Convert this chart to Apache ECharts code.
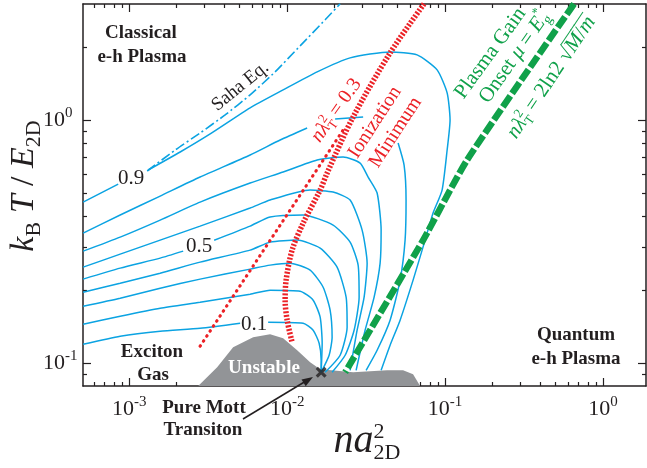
<!DOCTYPE html>
<html><head><meta charset="utf-8">
<script src="https://cdn.jsdelivr.net/npm/echarts@6/dist/echarts.min.js"></script>
<style>html,body{margin:0;padding:0;background:#fff}#c{width:647px;height:468px}</style>
</head><body><div id="c"></div>
<script>
// ---------------- data ----------------
const xMin = 5.1e-4, xMax = 1.87, yMin = 0.0804, yMax = 3.0;
const xMajorTicks = [0.001, 0.01, 0.1, 1];
const xTickExponents = ['-3', '-2', '-1', '0'];
const xMinorTicks = [6e-4, 7e-4, 8e-4, 9e-4, 2e-3, 3e-3, 4e-3, 5e-3, 6e-3, 7e-3, 8e-3, 9e-3,
  2e-2, 3e-2, 4e-2, 5e-2, 6e-2, 7e-2, 8e-2, 9e-2, 0.2, 0.3, 0.4, 0.5, 0.6, 0.7, 0.8, 0.9];
const yMajorTicks = [0.1, 1];
const yTickExponents = ['-1', '0'];
const yMinorTicks = [0.09, 0.2, 0.3, 0.4, 0.5, 0.6, 0.7, 0.8, 0.9, 2];

const contourLevels = ['0.1', '0.2', '0.3', '0.4', '0.5', '0.6', '0.7', '0.8', '0.9'];
const c01 = [[5.11e-4,0.1194],[8.77e-4,0.1288],[1.571e-3,0.1351],[2.812e-3,0.139],[5.04e-3,0.1458],null,
  [7.58e-3,0.1472],[1.263e-2,0.1458],[1.461e-2,0.1364],[1.594e-2,0.1206],[1.642e-2,0.1026],[1.642e-2,0.0916]];
const c02 = [[5.11e-4,0.1444],[8.77e-4,0.1557],[1.571e-3,0.168],[2.812e-3,0.1779],[5.83e-3,0.1919],[7.8e-3,0.1993],
  [1.208e-2,0.1974],[1.461e-2,0.1813],[1.618e-2,0.1543],[1.666e-2,0.1206],[1.642e-2,0.0916]];
const c03 = [[5.11e-4,0.1713],[8.77e-4,0.1848],[1.571e-3,0.2031],[2.812e-3,0.2213],[5.83e-3,0.2433],[7.8e-3,0.2527],
  [1.045e-2,0.2575],[1.398e-2,0.241],[1.69e-2,0.205],[1.871e-2,0.1649],[1.926e-2,0.1276],[1.844e-2,0.1076],[1.642e-2,0.0916]];
const c04 = [[5.11e-4,0.1956],[8.77e-4,0.213],[1.571e-3,0.2342],[2.812e-3,0.26],[5.83e-3,0.2913],[7.8e-3,0.3143],
  [1.157e-2,0.3203],[1.618e-2,0.2969],[2.071e-2,0.2479],[2.362e-2,0.1865],[2.397e-2,0.1403],[2.165e-2,0.1076],[1.74e-2,0.0916]];
const c05 = [[5.11e-4,0.2213],[8.77e-4,0.2456],[1.571e-3,0.27],[2.197e-3,0.2885],null,[3.451e-3,0.32],[5.83e-3,0.3658],
  [7.8e-3,0.3986],[1.263e-2,0.4062],[1.954e-2,0.3693],[2.504e-2,0.3143],[2.814e-2,0.2527],[2.855e-2,0.1865],
  [2.654e-2,0.1364],[2.329e-2,0.1076],[1.926e-2,0.0916]];
const c06 = [[5.11e-4,0.2479],[8.77e-4,0.2804],[1.571e-3,0.3203],[2.812e-3,0.3658],[5.83e-3,0.434],[7.8e-3,0.4681],
  [1.398e-2,0.5147],[1.954e-2,0.505],[2.504e-2,0.4681],[2.983e-2,0.3522],[3.209e-2,0.2575],[3.071e-2,0.1865],
  [2.773e-2,0.1364],[2.504e-2,0.0933]];
const c07 = [[5.11e-4,0.2885],[8.77e-4,0.3296],[1.571e-3,0.3873],[2.812e-3,0.4593],[5.83e-3,0.55],[9.43e-3,0.6106],
  [1.549e-2,0.684],[2.262e-2,0.704],[2.897e-2,0.6648],[3.256e-2,0.5822],[3.712e-2,0.5003],[3.935e-2,0.3522],
  [3.878e-2,0.2575],[3.553e-2,0.1865],[3.116e-2,0.1364],[2.733e-2,0.0933]];
const c08 = [[5.11e-4,0.3422],[8.77e-4,0.4062],[1.571e-3,0.4862],[2.812e-3,0.5822],[5.83e-3,0.7176],[9.03e-3,0.827],
  [1.338e-2,0.927],null,[2.012e-2,1.009],[3.027e-2,1.029],null,[5.04e-2,0.804],[5.5e-2,0.6524],[5.66e-2,0.4681],
  [5.58e-2,0.3203],[5.19e-2,0.2192],[4.485e-2,0.15],[3.712e-2,0.1128],[3.162e-2,0.0933]];
const c09 = [[5.11e-4,0.4593],[8.52e-4,0.5448],null,[1.319e-3,0.6223],[2.103e-3,0.738],[3.257e-3,0.876],[5.83e-3,1.121],
  [9.43e-3,1.329],[1.549e-2,1.577],[2.504e-2,1.801],[4.485e-2,1.906],[6.65e-2,1.853],[8.9e-2,1.607],[0.103,1.292],
  [0.1075,1.0],[0.103,0.752],[9.57e-2,0.5147],[8.39e-2,0.4139],[7.47e-2,0.3203],[6.27e-2,0.2192],[5.19e-2,0.15],
  [4.485e-2,0.1183],[3.935e-2,0.0933]];
const sahaEq = [[1.3e-3,0.6165],[1.955e-3,0.752],[2.812e-3,0.884],[4.05e-3,1.049],[5.83e-3,1.268],[8.39e-3,1.577],
  [1.208e-2,2.018],[1.74e-2,2.583],[2.165e-2,3.006]];
const ionizationMinimum = [[7.36e-2,3.006],[4.485e-2,1.888],[2.617e-2,1.029],[1.791e-2,0.6047],[1.618e-2,0.5147],
  [1.263e-2,0.3764],[1.075e-2,0.2913],[9.85e-3,0.2192],[9.71e-3,0.1813],[1.0e-2,0.15],[1.075e-2,0.1217]];
const thermalLine03 = [[2.812e-3,0.1172],[2.329e-2,0.936]];
const plasmaGainOnset = [[0.6555,3.006],[0.1378,0.684],[7.26e-2,0.3203],[2.329e-2,0.0916]];
const unstableRegion = [[2.734e-3,0.0804],[3.605e-3,0.096],[4.55e-3,0.1161],[6.09e-3,0.1276],[7.8e-3,0.1313],
  [9.43e-3,0.1264],[1.157e-2,0.1128],[1.398e-2,0.1007],[1.618e-2,0.0942],[2.617e-2,0.0916],[4.294e-2,0.0933],
  [5.42e-2,0.0933],[6.27e-2,0.0899],[6.95e-2,0.0804]];
const pureMottPoint = [[1.642e-2, 0.0916]];

// ---------------- styling ----------------
const BLUE = '#0ba3e2', RED = '#ec2227', GREEN = '#10a14a', GRAY = '#929497', INK = '#231f20';
const FONT = '"Liberation Serif", "Times New Roman", serif';

function expOf(v, ticks, exps) {
  let best = 0, bd = Infinity;
  ticks.forEach((t, i) => { const d = Math.abs(Math.log10(v) - Math.log10(t)); if (d < bd) { bd = d; best = i; } });
  return exps[best];
}
const tickRich = {
  b: { fontSize: 22, fontFamily: FONT, color: INK, lineHeight: 28 },
  s: { fontSize: 15, fontFamily: FONT, color: INK, lineHeight: 14, verticalAlign: 'top' }
};
function mkAxis(pos, min, max, tickVals, len, showLine, label) {
  return {
    type: 'log', logBase: 10, min: min, max: max, position: pos, gridIndex: 0,
    axisLine: { show: showLine, onZero: false, lineStyle: { color: INK, width: 1.5 } },
    axisTick: { show: true, inside: true, length: len, customValues: tickVals, lineStyle: { color: INK, width: 1.2 } },
    axisLabel: label || { show: false },
    splitLine: { show: false }, minorTick: { show: false }, minorSplitLine: { show: false },
    axisPointer: { show: false }
  };
}

// rich text composed of parts (for sub/superscripts), optionally rotated
const mctx = document.createElement('canvas').getContext('2d');
function fnt(p) { return (p.it ? 'italic ' : '') + (p.b ? 'bold ' : '') + p.s + 'px ' + FONT; }
function richGroup(cx, cy, deg, parts, color, main) {
  const kids = []; let x = 0;
  for (const p of parts) {
    const f = fnt(p); mctx.font = f;
    const w = mctx.measureText(p.t).width;
    kids.push({ type: 'text', x: x, y: (p.dy || 0) - 0.305 * p.s + 0.33 * main,
      style: { text: p.t, font: f, fill: color, align: 'left', verticalAlign: 'middle' } });
    if (p.ol) kids.push({ type: 'line', shape: { x1: x - 0.5, y1: -0.8 * p.s + 0.33 * main, x2: x + w + 0.5, y2: -0.8 * p.s + 0.33 * main },
      style: { stroke: color, lineWidth: 1 } });
    if (!p.noadv) x += w;
  }
  const sh = -x / 2;
  for (const k of kids) { if (k.type === 'text') k.x += sh; else { k.shape.x1 += sh; k.shape.x2 += sh; } }
  return { type: 'group', x: cx, y: cy, rotation: deg * Math.PI / 180, children: kids, z: 100 };
}
function plain(x, y, text, size, color, bold) {
  return { type: 'text', x: x, y: y, z: 100,
    style: { text: text, font: (bold ? 'bold ' : '') + size + 'px ' + FONT, fill: color, align: 'center', verticalAlign: 'middle' } };
}

const graphics = [
  plain(141, 33, 'Classical', 19, INK, true),
  plain(142, 57, 'e-h Plasma', 19, INK, true),
  plain(152, 352, 'Exciton', 19, INK, true),
  plain(153, 375, 'Gas', 19, INK, true),
  plain(264, 368, 'Unstable', 19, '#ffffff', true),
  plain(204, 408, 'Pure Mott', 19, INK, true),
  plain(203, 430, 'Transiton', 19, INK, true),
  plain(576, 335, 'Quantum', 19, INK, true),
  plain(576, 359, 'e-h Plasma', 19, INK, true),
  plain(131, 178, '0.9', 21, INK, false),
  plain(199, 246, '0.5', 21, INK, false),
  plain(254, 324, '0.1', 21, INK, false),
  richGroup(240, 86, 39, [{ t: 'Saha Eq.', s: 19 }], INK, 19),
  richGroup(336, 110, 55, [{ t: 'nλ', s: 20, it: 1 }, { t: '2', s: 13, dy: -8, noadv: 1 }, { t: 'T', s: 13, dy: 4 }, { t: ' = 0.3', s: 20 }], RED, 20),
  richGroup(374.5, 122, 57, [{ t: 'Ionization', s: 20 }], RED, 20),
  richGroup(395, 132, 57, [{ t: 'Minimum', s: 20 }], RED, 20),
  richGroup(490, 53, 54, [{ t: 'Plasma Gain', s: 21 }], GREEN, 21),
  richGroup(514, 57, 55, [{ t: 'Onset ', s: 21 }, { t: 'μ', s: 21, it: 1 }, { t: ' = ', s: 21 }, { t: 'E', s: 21, it: 1 },
    { t: '*', s: 13, dy: -10, noadv: 1 }, { t: 'g', s: 14, dy: 4 }], GREEN, 21),
  richGroup(551, 77, 56, [{ t: 'nλ', s: 21, it: 1 }, { t: '2', s: 13, dy: -9, noadv: 1 }, { t: 'T', s: 13, dy: 4 },
    { t: ' = 2ln2 ', s: 21 }, { t: '√', s: 21 }, { t: 'M', s: 21, it: 1, ol: 1 }, { t: '/', s: 21, ol: 1 }, { t: 'm', s: 21, it: 1, ol: 1 }], GREEN, 21),
  richGroup(23, 186, 90, [{ t: 'k', s: 34, it: 1 }, { t: 'B', s: 22, dy: 7 }, { t: ' T', s: 34, it: 1 }, { t: ' / ', s: 34 },
    { t: 'E', s: 34, it: 1 }, { t: '2D', s: 22, dy: 7 }], INK, 34),
  richGroup(367, 440, 0, [{ t: 'na', s: 40, it: 1 }, { t: '2', s: 22, dy: -14, noadv: 1 }, { t: '2D', s: 22, dy: 7 }], INK, 40),
  { type: 'line', z: 100, shape: { x1: 243, y1: 419, x2: 306, y2: 381 }, style: { stroke: INK, lineWidth: 1.5 } },
  { type: 'polygon', z: 100, shape: { points: [[313, 377], [305.7, 386.2], [301.5, 379.4]] }, style: { fill: INK } }
];

const contours = [c01, c02, c03, c04, c05, c06, c07, c08, c09];
const series = [
  { type: 'line', name: 'Unstable', data: unstableRegion, symbol: 'none', lineStyle: { width: 0 },
    areaStyle: { color: GRAY, opacity: 1, origin: 'start' }, z: 1, silent: true }
];
contours.forEach((c, i) => series.push({ type: 'line', name: contourLevels[i], data: c, symbol: 'none', smooth: 0.2,
  connectNulls: false, lineStyle: { color: BLUE, width: 1.5 }, z: 3, silent: true }));
series.push({ type: 'line', name: 'Saha Eq.', data: sahaEq, symbol: 'none', smooth: 0.2,
  lineStyle: { color: BLUE, width: 1.6, type: [10, 3, 2, 3] }, z: 3, silent: true });
series.push({ type: 'line', name: 'Ionization Minimum', data: ionizationMinimum, symbol: 'none', smooth: 0.3,
  lineStyle: { color: RED, width: 5.5, type: [2, 1.6] }, z: 4, silent: true });
series.push({ type: 'line', name: 'n lambda^2 = 0.3', data: thermalLine03, symbol: 'none',
  lineStyle: { color: RED, width: 3.2, type: [0.5, 5.5], cap: 'round' }, z: 4, silent: true });
series.push({ type: 'line', name: 'Plasma Gain Onset', data: plasmaGainOnset, symbol: 'none', smooth: 0.2,
  lineStyle: { color: GREEN, width: 6.5, type: [13, 3] }, z: 5, silent: true });
series.push({ type: 'scatter', name: 'Pure Mott Transition', data: pureMottPoint,
  symbol: 'path://M2,0 L5,3 L8,0 L10,2 L7,5 L10,8 L8,10 L5,7 L2,10 L0,8 L3,5 L0,2 Z',
  symbolSize: 11, itemStyle: { color: INK }, z: 10, silent: true });

const chart = echarts.init(document.getElementById('c'), null, { renderer: 'canvas' });
chart.setOption({
  animation: false,
  backgroundColor: '#ffffff',
  grid: { left: 83, top: 4, right: 1, bottom: 82, containLabel: false, outerBoundsMode: 'none' },
  xAxis: [
    mkAxis('bottom', xMin, xMax, xMajorTicks, 8, true, { show: true, customValues: xMajorTicks, margin: 9,
      formatter: v => '{b|10}{s|' + expOf(v, xMajorTicks, xTickExponents) + '}', rich: tickRich }),
    mkAxis('bottom', xMin, xMax, xMinorTicks, 4, false),
    mkAxis('top', xMin, xMax, xMajorTicks, 8, true),
    mkAxis('top', xMin, xMax, xMinorTicks, 4, false)
  ],
  yAxis: [
    mkAxis('left', yMin, yMax, yMajorTicks, 8, true, { show: true, customValues: yMajorTicks, margin: 40, align: 'left',
      formatter: v => '{b|10}{s|' + expOf(v, yMajorTicks, yTickExponents) + '}', rich: tickRich }),
    mkAxis('left', yMin, yMax, yMinorTicks, 4, false),
    mkAxis('right', yMin, yMax, yMajorTicks, 8, true),
    mkAxis('right', yMin, yMax, yMinorTicks, 4, false)
  ],
  series: series,
  graphic: { elements: graphics }
});
</script>
</body></html>
